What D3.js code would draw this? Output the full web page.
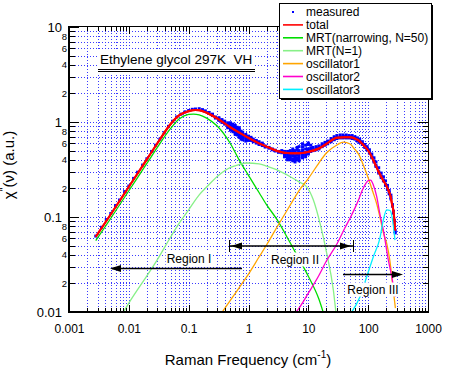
<!DOCTYPE html>
<html><head><meta charset="utf-8">
<script src="https://cdn.jsdelivr.net/npm/d3@7"></script>
<style>
body{margin:0;background:#fff;}
svg{display:block;font-family:"Liberation Sans",Arial,Helvetica,sans-serif;}
</style></head><body>
<svg id="chart" width="454" height="369"></svg>
<script>
// ---------- data ----------
const xDomain = [0.001, 1000];
const yDomain = [0.01, 10];
const xMajorTicks = [0.001, 0.01, 0.1, 1, 10, 100, 1000];
const xTickLabels = ["0.001", "0.01", "0.1", "1", "10", "100", "1000"];
const yMajorTicks = [0.01, 0.1, 1, 10];
const yTickLabels = ["0.01", "0.1", "1", "10"];
const yMinorLabelDigits = [2, 4, 6, 8];

const seriesNames = ["measured", "total", "MRT(narrowing, N=50)", "MRT(N=1)", "oscillator1", "oscillator2", "oscillator3"];
const seriesColors = ["#0000ff", "#ff0000", "#00dd00", "#88f088", "#ffa500", "#ff00cc", "#00f0ff"];

const titleText = "Ethylene glycol 297K  VH";
const regionLabels = ["Region I", "Region II", "Region III"];

const totalFreq = [0.0028,0.005,0.01,0.02,0.03,0.05,0.07,0.1,0.13,0.15,0.2,0.3,0.5,0.7,1,1.5,2,3,5,7,10,15,20,30,40,50,60,70,80,100,120,150,180,200,220,235,250,265,275,283];
const totalVal  = [0.062,0.107,0.208,0.404,0.597,0.953,1.18,1.30,1.34,1.33,1.25,1.09,0.879,0.774,0.680,0.596,0.551,0.496,0.469,0.469,0.486,0.526,0.587,0.683,0.690,0.690,0.670,0.637,0.586,0.501,0.405,0.298,0.241,0.215,0.188,0.168,0.138,0.115,0.092,0.072];

const mrtFreq = [0.0028,0.005,0.01,0.02,0.03,0.05,0.07,0.1,0.12,0.15,0.2,0.3,0.5,0.7,1,1.5,2,3,5,7,10,15,20];
const mrtVal  = [0.0563,0.097,0.189,0.366,0.542,0.855,1.08,1.20,1.21,1.19,1.10,0.906,0.590,0.397,0.274,0.181,0.135,0.0938,0.0532,0.0361,0.0238,0.0137,0.0077];

const mrt1Freq = [0.007,0.01,0.02,0.03,0.05,0.07,0.1,0.15,0.2,0.3,0.5,0.7,0.93,1.5,2,3,5,7,9.4,12.1,15.7,20.3,26.2,29];
const mrt1Val  = [0.0085,0.0124,0.024,0.0356,0.0616,0.0865,0.119,0.171,0.207,0.267,0.333,0.357,0.370,0.363,0.344,0.313,0.265,0.234,0.208,0.152,0.0858,0.0415,0.0170,0.0097];

const osc1Freq = [0.3,0.5,0.7,1,1.5,2,3,5,7,10,15,20,30,38.4,50,60,70,80,100,120,140,160,180,205,230,260,285];
const osc1Val  = [0.0084,0.0133,0.0181,0.0251,0.0379,0.0507,0.0785,0.134,0.190,0.254,0.370,0.472,0.573,0.615,0.586,0.514,0.453,0.372,0.259,0.183,0.135,0.095,0.068,0.052,0.035,0.018,0.011];

const osc2Freq = [6,7,10,15,20,30,40,50,60,70,80,90,100,110,122,139,158,179,217,248,283];
const osc2Val  = [0.0097,0.011,0.0158,0.0242,0.0344,0.052,0.0748,0.0976,0.124,0.155,0.192,0.222,0.242,0.245,0.217,0.164,0.105,0.073,0.0353,0.0235,0.0145];

const osc3Freq = [50,53,73,94.6,122,158,179,204,232,256,281];
const osc3Val  = [0.0095,0.0100,0.0145,0.0235,0.0382,0.0608,0.0929,0.119,0.117,0.093,0.057];

const measured = [
[0.0028,0.063],[0.0035,0.078],[0.0042,0.094],[0.005,0.109],[0.006,0.132],[0.007,0.151],[0.0085,0.185],[0.01,0.212],[0.012,0.255],[0.014,0.296],[0.017,0.352],[0.02,0.41],[0.024,0.49],[0.028,0.57],[0.033,0.66],[0.039,0.77],[0.046,0.90],[0.054,1.02],[0.063,1.13],[0.074,1.21],[0.087,1.28],[0.1,1.32],[0.115,1.36],[0.13,1.37],[0.15,1.38],[0.17,1.35],[0.19,1.31],[0.22,1.26],
[0.25,1.17],[0.25,1.21],[0.28,1.13],[0.28,1.10],[0.32,1.08],[0.32,1.04],[0.32,1.11],[0.36,1.02],[0.36,0.99],[0.36,1.06],[0.4,0.98],[0.4,0.95],[0.4,1.02],[0.45,0.94],[0.45,0.90],[0.45,0.98],[0.45,0.87],
[0.5,0.90],[0.5,0.86],[0.5,0.94],[0.5,0.82],[0.5,0.98],[0.55,0.86],[0.55,0.83],[0.55,0.91],[0.55,0.79],[0.55,0.95],[0.6,0.84],[0.6,0.80],[0.6,0.88],[0.6,0.76],[0.6,0.92],[0.6,0.74],[0.65,0.81],[0.65,0.77],[0.65,0.85],[0.65,0.73],[0.65,0.88],[0.7,0.78],[0.7,0.75],[0.7,0.83],[0.7,0.71],[0.7,0.86],[0.7,0.69],[0.75,0.76],[0.75,0.73],[0.75,0.80],[0.75,0.70],[0.75,0.66],[0.8,0.74],[0.8,0.71],[0.8,0.78],[0.8,0.68],[0.8,0.65],[0.9,0.71],[0.9,0.69],[0.9,0.74],[0.9,0.66],[0.9,0.63],
[1.0,0.69],[1.0,0.66],[1.0,0.71],[1.0,0.64],[1.1,0.67],[1.1,0.64],[1.1,0.69],[1.2,0.64],[1.2,0.62],[1.2,0.66],[1.35,0.62],[1.35,0.60],[1.35,0.64],[1.5,0.60],[1.5,0.58],[1.5,0.62],[1.7,0.58],[1.7,0.565],[1.7,0.60],[1.9,0.56],[1.9,0.545],[2.2,0.54],[2.2,0.53],[2.5,0.52],[2.5,0.51],[2.8,0.505],[2.8,0.495],[3.2,0.49],[3.2,0.48],
[3.6,0.485],[3.6,0.475],[3.6,0.50],[4,0.47],[4,0.46],[4,0.44],[4,0.49],[4,0.43],[4.5,0.47],[4.5,0.45],[4.5,0.43],[4.5,0.49],[4.5,0.42],[4.5,0.40],[5,0.47],[5,0.44],[5,0.42],[5,0.50],[5,0.40],[5,0.46],[5.5,0.46],[5.5,0.44],[5.5,0.41],[5.5,0.49],[5.5,0.39],[5.5,0.52],[6,0.47],[6,0.44],[6,0.42],[6,0.50],[6,0.40],[6,0.38],[6.5,0.47],[6.5,0.45],[6.5,0.42],[6.5,0.51],[6.5,0.40],[6.5,0.54],[7,0.47],[7,0.45],[7,0.43],[7,0.50],[7,0.41],[7,0.39],[7,0.55],[8,0.48],[8,0.46],[8,0.44],[8,0.51],[8,0.42],[8,0.55],[8,0.59],[9,0.48],[9,0.47],[9,0.45],[9,0.52],[9,0.43],[9,0.57],[10,0.49],[10,0.47],[10,0.52],[10,0.46],[10,0.58],[10,0.60],[11,0.50],[11,0.49],[11,0.53],[11,0.57],[12,0.51],[12,0.50],[12,0.54],
[13.5,0.52],[13.5,0.51],[13.5,0.55],[15,0.53],[15,0.52],[15,0.56],[17,0.56],[17,0.55],[17,0.59],[19,0.58],[19,0.57],[19,0.61],[21,0.60],[21,0.59],[21,0.63],[24,0.64],[24,0.62],[24,0.67],[27,0.66],[27,0.65],[27,0.70],[30,0.68],[30,0.67],[30,0.72],[34,0.69],[34,0.68],[34,0.73],[38,0.695],[38,0.68],[38,0.73],[43,0.69],[43,0.68],[43,0.73],[48,0.69],[48,0.68],[48,0.72],[54,0.68],[54,0.67],[54,0.72],[60,0.67],[60,0.66],[60,0.70],[66,0.65],[66,0.63],[66,0.68],[72,0.63],[72,0.61],[72,0.66],[80,0.59],[80,0.58],[80,0.62],[88,0.55],[88,0.54],[88,0.58],[96,0.52],[96,0.51],[96,0.55],[105,0.48],[105,0.47],[105,0.51],[115,0.43],[115,0.42],[115,0.46],[125,0.39],[125,0.38],[125,0.42],[135,0.35],[135,0.34],[135,0.38],[150,0.30],[150,0.29],[150,0.33],[165,0.27],[165,0.26],[165,0.29],[180,0.245],[180,0.24],[180,0.265],[195,0.22],[195,0.215],[195,0.24],[210,0.20],[210,0.195],[210,0.215],[225,0.18],[225,0.175],[225,0.19],[240,0.16],[240,0.155],[240,0.17],[255,0.135],[255,0.13],[265,0.115],[265,0.11],[275,0.092],[275,0.086],[283,0.072],[283,0.068]
];

// ---------- drawing ----------
const svg = d3.select("#chart");
const x = d3.scaleLog().domain(xDomain).range([69, 428]);
const y = d3.scaleLog().domain(yDomain).range([312, 27]);
const [x0, x1] = x.range();
const [y0, y1] = y.range();
const gridColor = "#3a3aff";

const isDecade = d => Math.abs(Math.log10(d) - Math.round(Math.log10(d))) < 1e-9;
const leadDigit = d => Math.round(d / Math.pow(10, Math.floor(Math.log10(d) + 1e-9)));

// grid
const grid = svg.append("g").attr("stroke", gridColor).attr("stroke-dasharray", "1,2").attr("shape-rendering", "crispEdges");
grid.selectAll("line.gx").data(x.ticks().filter(d => d > xDomain[0] && d < xDomain[1])).join("line")
  .attr("x1", d => Math.round(x(d)) + 0.5).attr("x2", d => Math.round(x(d)) + 0.5)
  .attr("y1", y1).attr("y2", y0);
grid.selectAll("line.gy").data(y.ticks().filter(d => d > yDomain[0] && d < yDomain[1])).join("line")
  .attr("y1", d => Math.round(y(d)) + 0.5).attr("y2", d => Math.round(y(d)) + 0.5)
  .attr("x1", x0).attr("x2", x1);

// clip
svg.append("clipPath").attr("id", "plotclip").append("rect")
  .attr("x", x0).attr("y", y1).attr("width", x1 - x0).attr("height", y0 - y1);
const plot = svg.append("g").attr("clip-path", "url(#plotclip)");

// measured
plot.append("g").attr("fill", seriesColors[0]).selectAll("rect").data(measured).join("rect")
  .attr("x", d => x(d[0]) - 1.5).attr("y", d => y(d[1]) - 1.5).attr("width", 3).attr("height", 3);

// curves
const lineGen = d3.line().x(d => x(d[0])).y(d => y(d[1])).curve(d3.curveMonotoneX);
const curves = [
  [totalFreq, totalVal, 1, 2],
  [mrtFreq, mrtVal, 2, 1.3],
  [mrt1Freq, mrt1Val, 3, 1.3],
  [osc1Freq, osc1Val, 4, 1.3],
  [osc2Freq, osc2Val, 5, 1.3],
  [osc3Freq, osc3Val, 6, 1.3]
];
curves.forEach(([f, v, ci, w]) => {
  plot.append("path").datum(f.map((fr, i) => [fr, v[i]]))
    .attr("fill", "none").attr("stroke", seriesColors[ci]).attr("stroke-width", w)
    .attr("d", lineGen);
});
plot.append("path").datum(totalFreq.map((fr, i) => [fr, totalVal[i]]))
  .attr("fill", "none").attr("stroke", seriesColors[1]).attr("stroke-width", 2).attr("d", lineGen);

// axes
function styleAxis(g) {
  g.select(".domain").remove();
  g.selectAll("line").attr("stroke", "#000").attr("shape-rendering", "crispEdges");
  g.selectAll("text").attr("fill", "#000");
}
const yMinor = y.ticks().filter(d => !isDecade(d));
const xMinor = x.ticks().filter(d => !isDecade(d));

svg.append("g").attr("transform", `translate(${x0},0)`)
  .call(d3.axisLeft(y).tickValues(yMajorTicks).tickSize(-10).tickPadding(7).tickFormat((d, i) => yTickLabels[i]))
  .call(styleAxis).call(g => g.selectAll("text").attr("font-size", 13).attr("font-family", null));
svg.append("g").attr("transform", `translate(${x0},0)`)
  .call(d3.axisLeft(y).tickValues(yMinor).tickSize(-6).tickPadding(2)
    .tickFormat(d => yMinorLabelDigits.includes(leadDigit(d)) ? String(leadDigit(d)) : ""))
  .call(styleAxis).call(g => g.selectAll("text").attr("font-size", 9.5).attr("font-family", null));
svg.append("g").attr("transform", `translate(${x1},0)`)
  .call(d3.axisRight(y).tickValues(yMajorTicks).tickSize(-10).tickFormat(""))
  .call(styleAxis);
svg.append("g").attr("transform", `translate(${x1},0)`)
  .call(d3.axisRight(y).tickValues(yMinor).tickSize(-5).tickFormat(""))
  .call(styleAxis);

svg.append("g").attr("transform", `translate(0,${y0})`)
  .call(d3.axisBottom(x).tickValues(xMajorTicks).tickSize(-7).tickPadding(12).tickFormat((d, i) => xTickLabels[i]))
  .call(styleAxis).call(g => g.selectAll("text").attr("font-size", 12).attr("font-family", null));
svg.append("g").attr("transform", `translate(0,${y0})`)
  .call(d3.axisBottom(x).tickValues(xMinor).tickSize(-4).tickFormat(""))
  .call(styleAxis);
svg.append("g").attr("transform", `translate(0,${y1})`)
  .call(d3.axisTop(x).tickValues(xMajorTicks).tickSize(-7).tickFormat(""))
  .call(styleAxis);
svg.append("g").attr("transform", `translate(0,${y1})`)
  .call(d3.axisTop(x).tickValues(xMinor).tickSize(-4).tickFormat(""))
  .call(styleAxis);

// frame
const frame = svg.append("g").attr("stroke", "#000").attr("shape-rendering", "crispEdges");
frame.append("line").attr("x1", x0).attr("x2", x0).attr("y1", y1 - 1).attr("y2", y0 + 1).attr("stroke-width", 2);
frame.append("line").attr("x1", x0 - 1).attr("x2", x1 + 1).attr("y1", y0).attr("y2", y0).attr("stroke-width", 2);
frame.append("line").attr("x1", x1 + 0.5).attr("x2", x1 + 0.5).attr("y1", y1 - 1).attr("y2", y0).attr("stroke-width", 1);
frame.append("line").attr("x1", x0).attr("x2", x1 + 1).attr("y1", y1 - 0.5).attr("y2", y1 - 0.5).attr("stroke-width", 1);

// axis titles
const yt = svg.append("text").attr("transform", "translate(14,165) rotate(-90)")
  .attr("text-anchor", "middle").attr("font-size", 15).attr("fill", "#000");
yt.append("tspan").text("χ");
yt.append("tspan").attr("font-size", 10).attr("dy", -6).text("''");
yt.append("tspan").attr("dy", 6).text("(ν) (a.u.)");

const xt = svg.append("text").attr("x", 248).attr("y", 364.5)
  .attr("text-anchor", "middle").attr("font-size", 15).attr("fill", "#000");
xt.append("tspan").text("Raman Frequency (cm");
xt.append("tspan").attr("font-size", 10).attr("dy", -7).text("-1");
xt.append("tspan").attr("dy", 7).text(")");

// title box
svg.append("rect").attr("x", 98).attr("y", 51).attr("width", 157).attr("height", 22).attr("fill", "#fff");
svg.append("text").attr("x", 100).attr("y", 63.5).attr("font-size", 13.5).attr("fill", "#000")
  .style("white-space", "pre").text(titleText);
svg.append("line").attr("x1", 98).attr("x2", 255).attr("y1", 69.5).attr("y2", 69.5).attr("stroke", "#000").attr("shape-rendering", "crispEdges");
svg.append("line").attr("x1", 98).attr("x2", 255).attr("y1", 71.5).attr("y2", 71.5).attr("stroke", "#000").attr("shape-rendering", "crispEdges");

// region annotations
const ann = svg.append("g");
function label(txt, cx, base) {
  const t = ann.append("text").attr("x", cx).attr("y", base).attr("text-anchor", "middle")
    .attr("font-size", 12).attr("fill", "#000").text(txt);
  const bb = t.node().getBBox();
  ann.insert("rect", "text").attr("x", bb.x - 1).attr("y", bb.y).attr("width", bb.width + 2).attr("height", bb.height)
    .attr("fill", "#fff");
}
label(regionLabels[0], 189, 262.5);
label(regionLabels[1], 295, 263.5);
label(regionLabels[2], 373, 293.5);

const ag = svg.append("g").attr("stroke", "#000").attr("stroke-width", 1.5);
ag.append("line").attr("x1", 112).attr("x2", 242).attr("y1", 268.5).attr("y2", 268.5);
ag.append("path").attr("d", "M110,268.5L121,265L121,272Z").attr("fill", "#000").attr("stroke", "none");
ag.append("line").attr("x1", 230).attr("x2", 353).attr("y1", 246).attr("y2", 246);
ag.append("line").attr("x1", 229.5).attr("x2", 229.5).attr("y1", 240).attr("y2", 252).attr("stroke-width", 1);
ag.append("line").attr("x1", 353.5).attr("x2", 353.5).attr("y1", 240).attr("y2", 252).attr("stroke-width", 1);
ag.append("path").attr("d", "M231,246L242,242.5L242,249.5Z").attr("fill", "#000").attr("stroke", "none");
ag.append("path").attr("d", "M351,246L340,242.5L340,249.5Z").attr("fill", "#000").attr("stroke", "none");
ag.append("line").attr("x1", 343).attr("x2", 400).attr("y1", 274.5).attr("y2", 274.5);
ag.append("path").attr("d", "M403,274.5L392,271L392,278Z").attr("fill", "#000").attr("stroke", "none");

// legend
const lg = svg.append("g");
lg.append("rect").attr("x", 281).attr("y", 5).attr("width", 152).attr("height", 95).attr("fill", "#000");
lg.append("rect").attr("x", 279.5).attr("y", 3.5).attr("width", 152).attr("height", 95)
  .attr("fill", "#fff").attr("stroke", "#000").attr("shape-rendering", "crispEdges");
seriesNames.forEach((name, i) => {
  const cy = 12 + i * 12.9;
  if (i === 0) {
    lg.append("rect").attr("x", 292).attr("y", cy - 1).attr("width", 2).attr("height", 2).attr("fill", seriesColors[0]);
  } else {
    lg.append("line").attr("x1", 283).attr("x2", 303).attr("y1", cy).attr("y2", cy)
      .attr("stroke", seriesColors[i]).attr("stroke-width", 1.6);
  }
  lg.append("text").attr("x", 306).attr("y", cy).attr("dy", "0.36em").attr("font-size", 12).attr("fill", "#000").text(name);
});
</script>
</body></html>
